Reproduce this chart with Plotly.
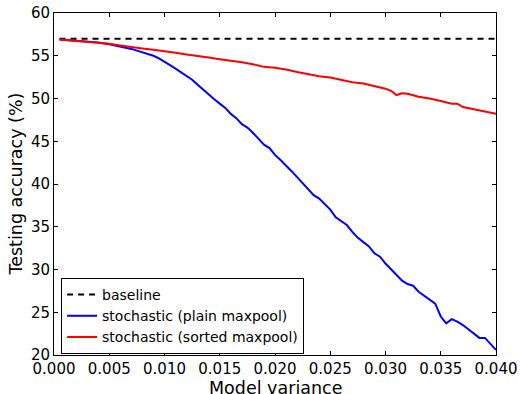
import plotly.graph_objects as go

blue_x = [0.0005, 0.002, 0.003, 0.004, 0.005, 0.006, 0.007, 0.0075, 0.008, 0.0085, 0.009, 0.0095,
          0.010, 0.0105, 0.011, 0.0115, 0.012, 0.0125, 0.013, 0.0135, 0.014, 0.0145, 0.015, 0.0155,
          0.016, 0.0165, 0.017, 0.0175, 0.018, 0.0185, 0.019, 0.0195, 0.020, 0.0205, 0.021, 0.0215,
          0.022, 0.0225, 0.023, 0.0235, 0.024, 0.0245, 0.025, 0.0255, 0.026, 0.0265, 0.027, 0.0275,
          0.028, 0.0285, 0.029, 0.0295, 0.030, 0.0305, 0.031, 0.0315, 0.032, 0.0325, 0.033, 0.0335,
          0.034, 0.0345, 0.035, 0.0355, 0.036, 0.0365, 0.037, 0.0375, 0.038, 0.0385, 0.039, 0.0395, 0.040]
blue_y = [56.9, 56.75, 56.7, 56.55, 56.35, 56.1, 55.8, 55.6, 55.4, 55.2, 55.0, 54.7,
          54.35, 53.9, 53.5, 53.1, 52.6, 52.2, 51.6, 51.0, 50.5, 49.9, 49.4, 48.9,
          48.2, 47.7, 47.0, 46.6, 46.0, 45.3, 44.6, 44.2, 43.4, 42.8, 42.2, 41.5,
          40.8, 40.1, 39.4, 38.7, 38.3, 37.6, 37.0, 36.1, 35.6, 35.2, 34.4, 33.7,
          33.2, 32.7, 31.9, 31.5, 30.7, 30.0, 29.4, 28.7, 28.3, 28.1, 27.4, 26.9,
          26.4, 26.0, 24.5, 23.7, 24.2, 23.9, 23.5, 23.0, 22.5, 22.0, 22.0, 21.3, 20.6]

red_x = [0.0005, 0.002, 0.003, 0.004, 0.005, 0.006, 0.007, 0.008, 0.009, 0.010, 0.011, 0.012,
         0.013, 0.014, 0.015, 0.016, 0.017, 0.018, 0.019, 0.020, 0.021, 0.022, 0.023, 0.024,
         0.025, 0.026, 0.027, 0.028, 0.029, 0.030, 0.0305, 0.031, 0.0315, 0.032, 0.033, 0.034,
         0.035, 0.036, 0.0365, 0.037, 0.038, 0.039, 0.0395, 0.040]
red_y = [56.9, 56.75, 56.65, 56.55, 56.4, 56.2, 56.0, 55.85, 55.7, 55.55, 55.35, 55.15,
         55.0, 54.8, 54.6, 54.45, 54.25, 54.0, 53.7, 53.6, 53.4, 53.1, 52.85, 52.6,
         52.45, 52.2, 51.9, 51.75, 51.45, 51.15, 50.9, 50.4, 50.6, 50.55, 50.2, 50.0,
         49.7, 49.4, 49.4, 49.0, 48.75, 48.5, 48.3, 48.2]

base_x = [0.0005, 0.040]
base_y = [57.0, 57.0]

names = ["baseline", "stochastic (plain maxpool)", "stochastic (sorted maxpool)"]
x_ticks = [0.000, 0.005, 0.010, 0.015, 0.020, 0.025, 0.030, 0.035, 0.040]
x_tick_labels = ["0.000", "0.005", "0.010", "0.015", "0.020", "0.025", "0.030", "0.035", "0.040"]
y_ticks = [20, 25, 30, 35, 40, 45, 50, 55, 60]
x_title = "Model variance"
y_title = "Testing accuracy (%)"

FONT = "DejaVu Sans"

fig = go.Figure()
fig.add_trace(go.Scatter(x=base_x, y=base_y, mode="lines", name=names[0],
                         line=dict(color="black", width=2, dash="6px,5px")))
fig.add_trace(go.Scatter(x=blue_x, y=blue_y, mode="lines", name=names[1],
                         line=dict(color="#0000ff", width=2)))
fig.add_trace(go.Scatter(x=red_x, y=red_y, mode="lines", name=names[2],
                         line=dict(color="#ff0000", width=2)))

axis_common = dict(showline=True, linecolor="black", linewidth=1, mirror="allticks",
                   ticks="inside", ticklen=4, tickcolor="black", showgrid=False, zeroline=False,
                   automargin=False,
                   tickfont=dict(family=FONT, size=15, color="black"))

fig.update_layout(
    width=520, height=394,
    margin=dict(l=54, r=24, t=13, b=39),
    paper_bgcolor="white", plot_bgcolor="white",
    font=dict(family=FONT, color="black"),
    xaxis=dict(range=[0, 0.040], tickvals=x_ticks, ticktext=x_tick_labels, **axis_common),
    yaxis=dict(range=[20, 60], tickvals=y_ticks, **axis_common),
    legend=dict(x=0.016, y=0.003, xanchor="left", yanchor="bottom",
                bgcolor="white", bordercolor="black", borderwidth=1,
                font=dict(family=FONT, size=14), tracegroupgap=0, itemwidth=30),
    showlegend=True,
    annotations=[
        dict(text=x_title, xref="paper", yref="paper", x=0.5, y=0, xanchor="center",
             yanchor="middle", yshift=-32.5, showarrow=False,
             font=dict(family=FONT, size=17.5, color="black")),
        dict(text=y_title, xref="paper", yref="paper", x=0, y=0.5, xanchor="center",
             yanchor="middle", xshift=-38.5, textangle=-90, showarrow=False,
             font=dict(family=FONT, size=17.5, color="black")),
    ],
)

fig.write_html("out.html")
